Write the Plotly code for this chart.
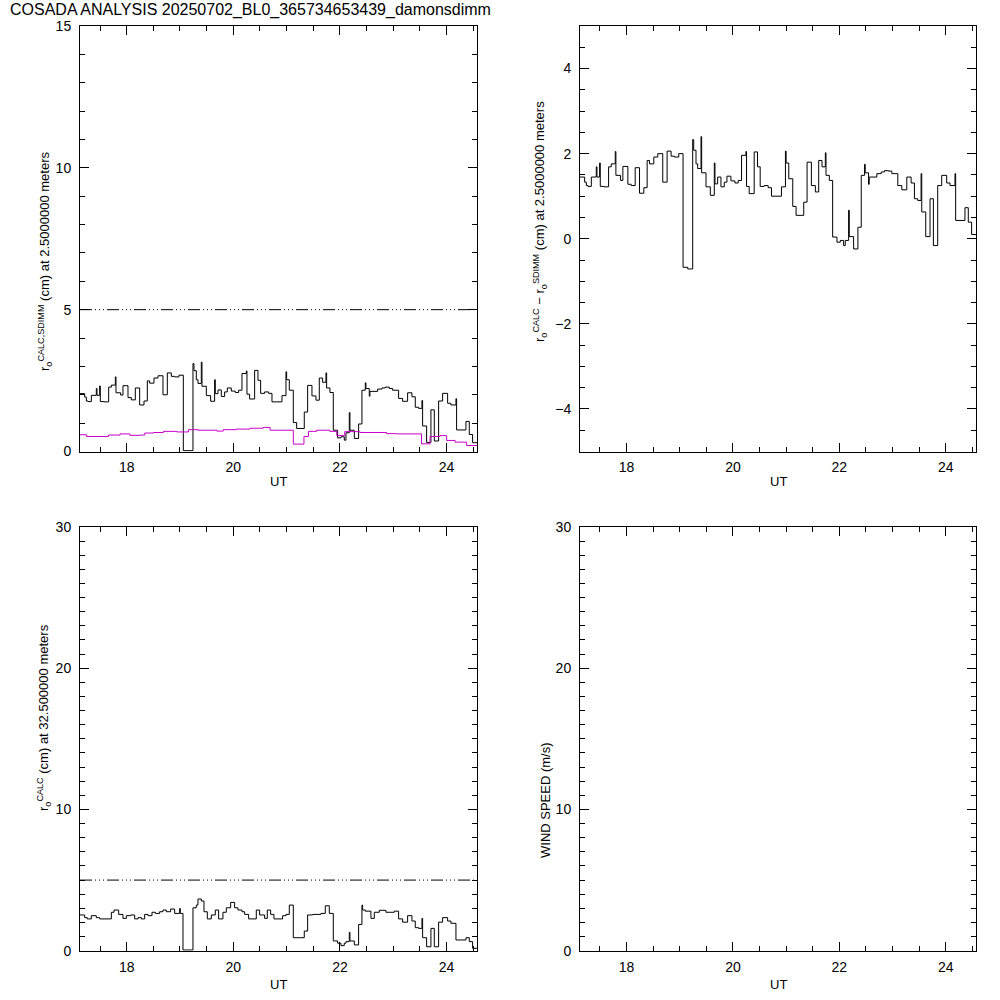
import plotly.graph_objects as go

# ---------------- data ----------------
UT_DIFF = [
    17.125, 17.2125, 17.2438, 17.275, 17.3375, 17.431, 17.444, 17.4938, 17.506, 17.575,
    17.6625, 17.7125, 17.7875, 17.8, 17.8875, 17.931, 18.025, 18.0875, 18.1625, 18.244,
    18.325, 18.3875, 18.431, 18.5125, 18.5875, 18.681, 18.7625, 18.8375, 18.9, 18.981,
    19.0625, 19.15, 19.2438, 19.2625, 19.306, 19.3375, 19.4, 19.4125, 19.494, 19.575,
    19.65, 19.6625, 19.7125, 19.775, 19.8375, 19.8875, 19.9625, 20.0375, 20.1, 20.1625,
    20.244, 20.256, 20.306, 20.4, 20.4625, 20.5125, 20.5875, 20.6625, 20.725, 20.9125,
    20.9875, 21.0, 21.05, 21.125, 21.1875, 21.331, 21.394, 21.475, 21.55, 21.6125,
    21.675, 21.7375, 21.75, 21.8125, 21.875, 21.956, 22.019, 22.081, 22.1125, 22.175,
    22.1875, 22.269, 22.35, 22.4125, 22.475, 22.4875, 22.55, 22.5625, 22.706, 22.7875,
    22.85, 22.925, 22.9875, 23.1, 23.175, 23.269, 23.35, 23.4125, 23.475, 23.5375,
    23.55, 23.625, 23.706, 23.769, 23.85, 23.925, 24.019, 24.081, 24.175, 24.1875,
    24.3625, 24.425, 24.4875, 24.57,
]
DIFF = [
    1.45, 1.33, 1.25, 1.23, 1.45, 1.69, 1.45, 1.78, 1.23, 1.22,
    1.69, 1.76, 2.05, 1.49, 1.37, 1.70, 1.28, 1.25, 1.67, 1.07,
    1.20, 1.84, 1.76, 1.92, 2.00, 1.33, 2.06, 1.94, 1.92, 2.00,
    -0.67, -0.71, 2.33, 2.08, 1.76, 1.65, 2.40, 1.55, 1.22, 1.02,
    1.78, 1.29, 1.45, 1.22, 1.33, 1.47, 1.36, 1.31, 1.37, 1.96,
    2.05, 1.23, 1.06, 2.04, 1.69, 1.23, 1.25, 1.20, 1.00, 1.22,
    2.06, 1.78, 1.41, 0.76, 0.55, 0.86, 1.80, 1.25, 1.10, 1.84,
    1.69, 2.02, 1.49, 1.37, 0.04, -0.08, -0.04, -0.16, -0.04, 0.67,
    0.05, -0.24, 0.27, 1.49, 1.75, 1.55, 1.28, 1.45, 1.53, 1.57,
    1.60, 1.59, 1.53, 1.25, 1.15, 1.45, 1.31, 0.94, 0.90, 1.53,
    0.63, 0.05, 0.94, -0.16, 1.25, 1.49, 1.31, 1.25, 1.53, 0.43,
    0.73, 0.39, 0.10, 0.10,
]
CALC25 = [
    2.04, 1.92, 1.78, 1.76, 1.98, 2.22, 1.98, 2.31, 1.76, 1.75,
    2.27, 2.34, 2.63, 2.07, 1.99, 2.32, 1.90, 1.82, 2.24, 1.64,
    1.78, 2.49, 2.41, 2.59, 2.67, 2.00, 2.77, 2.65, 2.63, 2.69,
    0.03, 0.03, 3.10, 2.85, 2.53, 2.40, 3.15, 2.30, 1.97, 1.77,
    2.53, 2.04, 2.17, 1.94, 2.10, 2.24, 2.13, 2.08, 2.16, 2.75,
    2.84, 2.02, 1.85, 2.86, 2.51, 2.05, 2.10, 2.05, 1.75, 1.97,
    2.81, 2.53, 2.16, 1.02, 0.81, 1.39, 2.33, 1.96, 1.81, 2.59,
    2.44, 2.77, 2.24, 2.08, 0.75, 0.48, 0.52, 0.40, 0.66, 1.37,
    0.75, 0.46, 0.97, 2.16, 2.42, 2.22, 1.95, 2.12, 2.20, 2.24,
    2.27, 2.22, 2.16, 1.87, 1.77, 2.07, 1.93, 1.56, 1.52, 1.80,
    0.90, 0.32, 1.47, 0.37, 1.78, 2.05, 1.70, 1.64, 1.86, 0.76,
    1.06, 0.60, 0.31, 0.31,
]
UT_SDIMM = [
    17.125, 17.25, 17.66, 17.875, 18.06, 18.25, 18.34, 18.5, 18.69, 18.94,
    19.16, 19.34, 19.69, 19.81, 20.06, 20.31, 20.56, 20.69, 21.125, 21.325,
    21.41, 21.56, 21.81, 21.94, 22.09, 22.375, 22.875, 23.06, 23.53, 23.69,
    23.875, 24.0, 24.16, 24.375, 24.57,
]
SDIMM = [
    0.59, 0.53, 0.58, 0.62, 0.57, 0.58, 0.65, 0.67, 0.71, 0.69,
    0.77, 0.75, 0.72, 0.77, 0.79, 0.82, 0.85, 0.75, 0.26, 0.53,
    0.71, 0.75, 0.71, 0.56, 0.70, 0.67, 0.63, 0.62, 0.27, 0.53,
    0.56, 0.39, 0.33, 0.21, 0.21,
]
UT_CALC325 = [
    17.125, 17.2125, 17.2625, 17.3375, 17.431, 17.4938, 17.7125, 17.7625, 17.85, 17.931,
    17.9938, 18.075, 18.15, 18.2125, 18.275, 18.3375, 18.4, 18.475, 18.5375, 18.6188,
    18.681, 18.7438, 18.825, 18.9, 18.9938, 19.006, 19.0563, 19.2438, 19.306, 19.3375,
    19.4, 19.45, 19.5125, 19.5875, 19.6625, 19.725, 19.806, 19.8688, 19.95, 20.025,
    20.0875, 20.1625, 20.2125, 20.2875, 20.431, 20.494, 20.5875, 20.6375, 20.7, 20.7625,
    20.925, 20.9875, 21.05, 21.125, 21.331, 21.394, 21.4875, 21.644, 21.725, 21.8,
    21.875, 21.956, 22.019, 22.081, 22.1125, 22.175, 22.1875, 22.269, 22.35, 22.4125,
    22.425, 22.475, 22.581, 22.644, 22.7375, 22.8625, 23.019, 23.1, 23.175, 23.269,
    23.35, 23.4125, 23.475, 23.5375, 23.55, 23.625, 23.706, 23.769, 23.85, 23.925,
    24.019, 24.081, 24.175, 24.3625, 24.425, 24.4875, 24.57,
]
CALC325 = [
    2.53, 2.34, 2.25, 2.48, 2.34, 2.25, 2.72, 2.88, 2.57, 2.29,
    2.48, 2.53, 2.25, 2.34, 2.25, 2.57, 2.48, 2.72, 2.64, 2.76,
    2.88, 2.76, 2.95, 2.64, 2.99, 2.64, 0.05, 3.04, 3.23, 3.66,
    3.52, 2.76, 2.25, 2.53, 2.88, 2.25, 2.72, 3.04, 3.42, 3.04,
    2.88, 2.76, 2.57, 2.25, 2.88, 2.53, 2.29, 2.88, 2.57, 2.25,
    2.48, 2.57, 3.23, 0.92, 1.39, 2.53, 2.57, 2.64, 3.18, 2.64,
    0.69, 0.53, 0.36, 0.53, 0.64, 1.30, 0.69, 0.41, 1.86, 3.23,
    2.88, 2.80, 2.29, 2.72, 2.86, 2.72, 2.80, 2.25, 2.02, 2.48,
    2.10, 1.63, 1.58, 2.29, 0.92, 0.28, 1.58, 0.28, 2.02, 2.34,
    2.10, 1.94, 0.76, 0.92, 0.64, 0.17, 0.17,
]
THRESHOLD = 5
X_RANGE = [17.125, 24.57]
X_TICKS = [18, 20, 22, 24]

TITLE = "COSADA ANALYSIS 20250702_BL0_365734653439_damonsdimm"
YTITLE_TL = "r<sub>o</sub><sup>CALC,SDIMM</sup> (cm) at 2.5000000 meters"
YTITLE_TR = "r<sub>o</sub><sup>CALC</sup> − r<sub>o</sub><sup>SDIMM</sup> (cm) at 2.5000000 meters"
YTITLE_BL = "r<sub>o</sub><sup>CALC</sup> (cm) at 32.500000 meters"
YTITLE_BR = "WIND SPEED (m/s)"
XTITLE = "UT"

FONT = "Liberation Sans"
MAGENTA = "#c800c8"

# ---------------- page geometry (pixel targets -> paper fractions) ----------------
S = 1000


def fx(p):
    return p / S


def fy(p):
    return 1 - p / S


XL = [fx(80), fx(477)]
XR = [fx(580), fx(976)]
YT = [fy(451.5), fy(26)]
YB = [fy(950.7), fy(527)]

# ---------------- figure ----------------
fig = go.Figure()

line_k = dict(color="black", width=1, shape="hv")
fig.add_trace(go.Scatter(x=UT_DIFF, y=CALC25, mode="lines", line=line_k,
                         xaxis="x", yaxis="y", showlegend=False, hoverinfo="skip"))
fig.add_trace(go.Scatter(x=UT_SDIMM, y=SDIMM, mode="lines",
                         line=dict(color=MAGENTA, width=1, shape="hv"),
                         xaxis="x", yaxis="y", showlegend=False, hoverinfo="skip"))
fig.add_trace(go.Scatter(x=UT_DIFF, y=DIFF, mode="lines", line=line_k,
                         xaxis="x2", yaxis="y2", showlegend=False, hoverinfo="skip"))
fig.add_trace(go.Scatter(x=UT_CALC325, y=CALC325, mode="lines", line=line_k,
                         xaxis="x3", yaxis="y3", showlegend=False, hoverinfo="skip"))
fig.add_trace(go.Scatter(x=[], y=[], mode="lines", line=line_k,
                         xaxis="x4", yaxis="y4", showlegend=False, hoverinfo="skip"))

DASH = "12px,3px,1px,3px,1px,3px,1px,3px"
for xr, yr in (("x", "y"), ("x3", "y3")):
    fig.add_shape(type="line", xref=f"{xr} domain", yref=yr, x0=0, x1=1,
                  y0=THRESHOLD, y1=THRESHOLD,
                  line=dict(color="black", width=1, dash=DASH))


def ax_common():
    return dict(showline=True, linecolor="black", linewidth=1, mirror="allticks",
                ticks="inside", ticklen=9, tickwidth=1, tickcolor="black",
                showgrid=False, zeroline=False, automargin=False,
                tickfont=dict(family=FONT, size=14, color="black"))


def xaxis(domain, anchor):
    d = ax_common()
    d.update(domain=domain, anchor=anchor, range=X_RANGE, tickmode="array",
             tickvals=X_TICKS, ticklabelstandoff=3,
             minor=dict(ticks="inside", ticklen=5, tickwidth=1, tickcolor="black",
                        dtick=0.5, tick0=18, showgrid=False))
    return d


def yaxis(domain, anchor, rng, dtick, mdtick):
    d = ax_common()
    d.update(domain=domain, anchor=anchor, range=rng, tickmode="linear",
             tick0=0, dtick=dtick, ticklabelstandoff=5,
             minor=dict(ticks="inside", ticklen=5, tickwidth=1, tickcolor="black",
                        dtick=mdtick, tick0=0, showgrid=False))
    return d


fig.update_layout(
    width=S, height=S, autosize=False,
    margin=dict(l=0, r=0, t=0, b=0, autoexpand=False),
    paper_bgcolor="white", plot_bgcolor="white",
    font=dict(family=FONT, size=13, color="black"),
    xaxis=xaxis(XL, "y"), yaxis=yaxis(YT, "x", [0, 15], 5, 1),
    xaxis2=xaxis(XR, "y2"), yaxis2=yaxis(YT, "x2", [-5, 5], 2, 0.5),
    xaxis3=xaxis(XL, "y3"), yaxis3=yaxis(YB, "x3", [0, 30], 10, 1),
    xaxis4=xaxis(XR, "y4"), yaxis4=yaxis(YB, "x4", [0, 30], 10, 1),
)

ann = []
ann.append(dict(text=TITLE, x=fx(8), y=fy(10), xanchor="left", yanchor="middle",
                font=dict(family=FONT, size=16)))
for x, y in ((fx(278), fy(481)), (fx(778), fy(481)),
             (fx(278), fy(984)), (fx(778), fy(984))):
    ann.append(dict(text=XTITLE, x=x, y=y, xanchor="center", yanchor="middle",
                    font=dict(family=FONT, size=13)))
for text, x, y in ((YTITLE_TL, fx(45), fy(262)), (YTITLE_TR, fx(540), fy(222)),
                   (YTITLE_BL, fx(44), fy(718)), (YTITLE_BR, fx(545), fy(800))):
    ann.append(dict(text=text, x=x, y=y, textangle=-90, xanchor="center",
                    yanchor="middle", font=dict(family=FONT, size=13)))
for a in ann:
    a.update(xref="paper", yref="paper", showarrow=False)
fig.update_layout(annotations=ann)

# pin the graph div to the page corner so the 1000x1000 figure fills the window
PIN = (
    "var d=document.getElementById('{plot_id}');"
    "d.style.position='fixed';d.style.top='0px';d.style.left='0px';"
    "document.body.style.margin='0';"
    "document.documentElement.style.overflow='hidden';"
    "document.body.style.overflow='hidden';"
)
fig.write_html("out.html", config={"displayModeBar": False, "responsive": False},
               post_script=PIN)
